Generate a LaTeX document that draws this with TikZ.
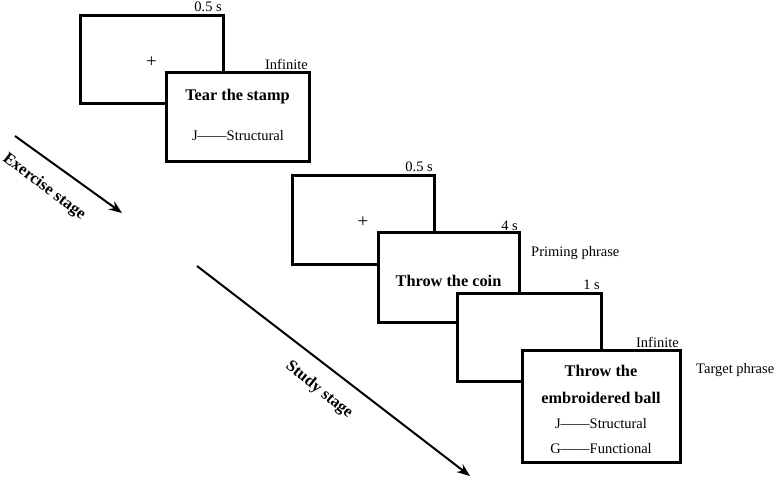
\documentclass[tikz,border=0pt]{standalone}
\usepackage{fontspec}
\setmainfont{Liberation Serif}
\usetikzlibrary{arrows.meta}
\begin{document}
\begin{tikzpicture}[x=1pt,y=-1pt,
  screen/.style={draw=black,line width=3pt,fill=white,inner sep=0pt,outer sep=0pt,anchor=north west},
  lbl/.style={font=\fontsize{14.5pt}{16pt}\selectfont,inner sep=0pt},
  cross/.style={font=\fontsize{19pt}{20pt}\selectfont,inner sep=0pt},
  bold/.style={font=\fontsize{16.3pt}{18pt}\selectfont\bfseries,inner sep=0pt},
  stagelbl/.style={font=\fontsize{16.5pt}{18pt}\selectfont\bfseries,inner sep=0pt},
  stagearrow/.style={line width=2pt,-{Stealth[length=13pt,width=10pt]}}]
\useasboundingbox (0,0) rectangle (777,482);
% exercise stage
\node[screen,minimum width=143pt,minimum height=88pt] (f1) at (80,15) {};
\node[screen,minimum width=143pt,minimum height=89pt] (t1) at (166,72) {};
\node[lbl,anchor=base east,xshift=-1pt,yshift=4pt] (d1) at (f1.north east) {0.5 s};
\node[lbl,anchor=base east,xshift=-1pt,yshift=3pt] (d2) at (t1.north east) {Infinite};
\node[cross] (p1) at ([yshift=-3pt]f1.center) {+};
\node[bold,anchor=base] (w1) at (237.5,100) {Tear the stamp};
\node[lbl,anchor=base] (k1) at (238,140.5) {J——Structural};
% study stage
\node[screen,minimum width=142pt,minimum height=89pt] (f2) at (292,175) {};
\node[screen,minimum width=141pt,minimum height=90pt] (t2) at (378,232) {};
\node[screen,minimum width=144pt,minimum height=88pt] (b2) at (457,293) {};
\node[screen,minimum width=158pt,minimum height=112pt] (t3) at (522,350) {};
\node[lbl,anchor=base east,xshift=-1pt,yshift=4pt] (d3) at (f2.north east) {0.5 s};
\node[lbl,anchor=base east,xshift=-1pt,yshift=2pt] (d4) at (t2.north east) {4 s};
\node[lbl,anchor=base east,xshift=-1pt,yshift=4pt] (d5) at (b2.north east) {1 s};
\node[lbl,anchor=base east,xshift=-1pt,yshift=3pt] (d6) at (t3.north east) {Infinite};
\node[cross] (p2) at ([yshift=-3pt]f2.center) {+};
\node[bold,anchor=base] (w2) at (448.5,286) {Throw the coin};
\node[lbl,anchor=base west] (pp) at (531,256) {Priming phrase};
\node[lbl,anchor=base west] (tp) at (696,373) {Target phrase};
\node[bold,anchor=base] (w3a) at (601,376) {Throw the};
\node[bold,anchor=base] (w3b) at (601,403) {embroidered ball};
\node[lbl,anchor=base] (k2) at (601,428) {J——Structural};
\node[lbl,anchor=base] (k3) at (601,453) {G——Functional};
% stage arrows
\coordinate (e0) at (15,136);
\coordinate (e1) at (122,213);
\draw[stagearrow] (e0) -- (e1);
\node[stagelbl,rotate=-37] (el) at (44,187) {Exercise stage};
\coordinate (s0) at (197,266);
\coordinate (s1) at (470,476);
\draw[stagearrow] (s0) -- (s1);
\node[stagelbl,rotate=-39] (sl) at (319,390) {Study stage};
\end{tikzpicture}
\end{document}
